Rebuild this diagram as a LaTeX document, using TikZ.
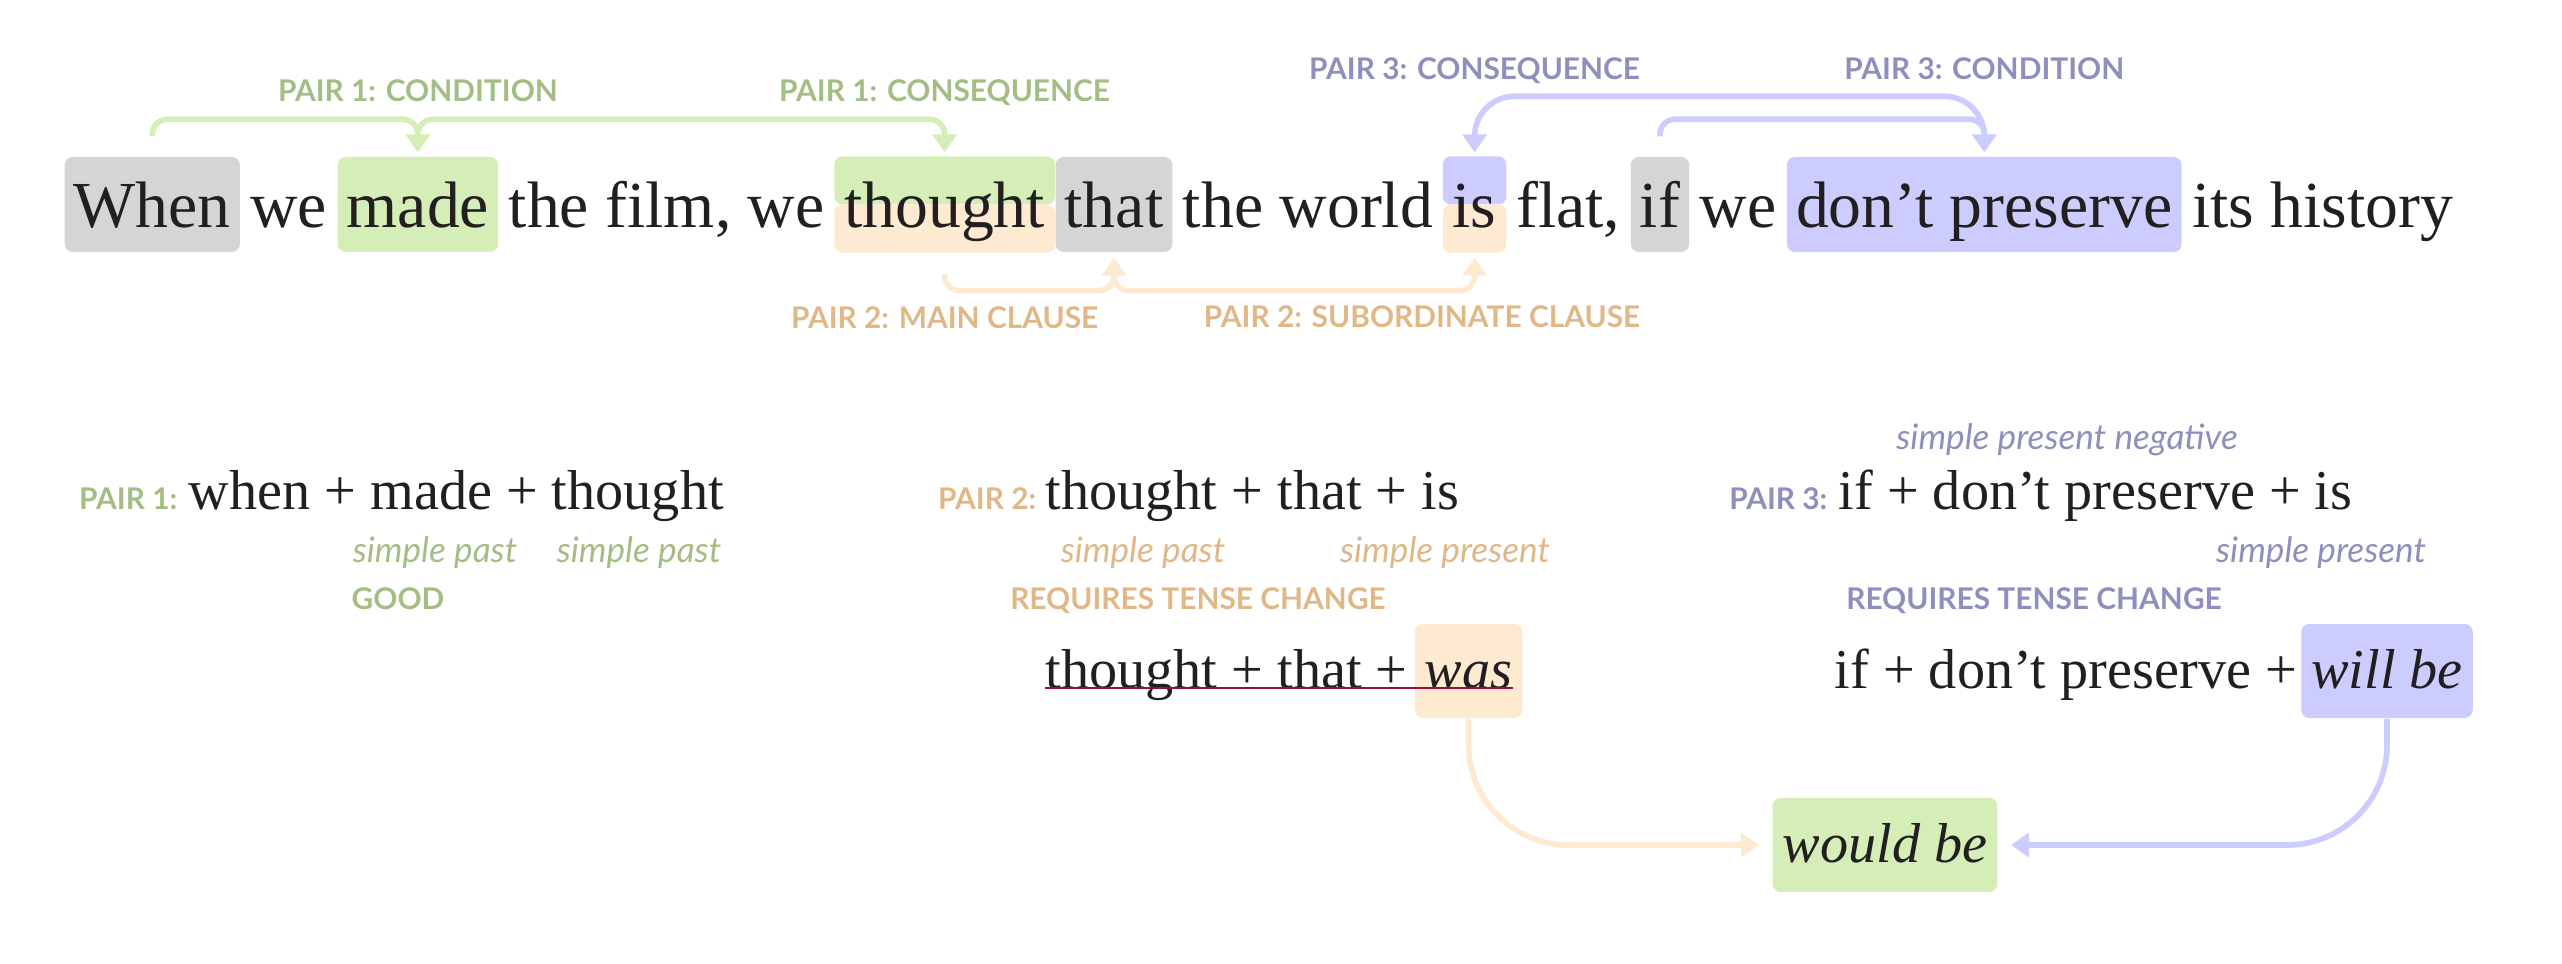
\documentclass[tikz,border=0pt]{standalone}
\usepackage{fontspec}
\setmainfont{Liberation Serif}
\newfontfamily\lato{Lato}
\usetikzlibrary{arrows.meta,positioning,backgrounds}

\definecolor{ink}{HTML}{231F20}
\definecolor{boxgray}{HTML}{D5D5D5}
\definecolor{boxgreen}{HTML}{D5EDB7}
\definecolor{boxorange}{HTML}{FDEAD0}
\definecolor{boxblue}{HTML}{CCCCFF}
\definecolor{labgreen}{HTML}{A3BE84}
\definecolor{laborange}{HTML}{E0B887}
\definecolor{labblue}{HTML}{8F8FBD}
\definecolor{strikered}{HTML}{9B0D40}

\begin{document}
\begin{tikzpicture}[x=0.1mm, y=-0.1mm,
		word/.style={font=\fontsize{18.7}{22}\selectfont, text=ink, text height=6.6mm, text depth=1.9mm,
			inner xsep=2.6pt, inner ysep=0.5mm, rounded corners=0.8mm},
		row/.style={font=\fontsize{16}{19}\selectfont, text=ink, inner sep=0, anchor=base west},
		lowbox/.style={font=\fontsize{16}{19}\selectfont\itshape, text=ink, text height=5.4mm, text depth=2mm,
			inner xsep=1mm, inner ysep=1mm, rounded corners=0.8mm},
		tag/.style={font=\lato\bfseries\fontsize{8.5}{10}\selectfont, inner sep=0, anchor=base},
		note/.style={font=\lato\itshape\fontsize{10}{12}\selectfont, inner sep=0, anchor=base},
		link/.style={line width=1.6pt, rounded corners=1.5mm, -{Triangle[length=1.8mm,width=2.4mm]}}]
	\useasboundingbox (0,0) rectangle (2562,964);

	% 整句
	\node[word, fill=boxgray, anchor=base west] (when) at (64,228) {When};
	\node[word, right=0pt of when] (we1) {we};
	\node[word, fill=boxgreen, right=0pt of we1] (made) {made};
	\node[word, right=0pt of made] (film) {the film, we};
	\node[word, right=0pt of film] (thought) {thought};
	\node[word, fill=boxgray, right=0pt of thought] (that) {that};
	\node[word, right=0pt of that] (world) {the world};
	\node[word, right=0pt of world] (is) {is};
	\node[word, right=0pt of is] (flat) {flat,};
	\node[word, fill=boxgray, right=0pt of flat] (if) {if};
	\node[word, right=0pt of if] (we2) {we};
	\node[word, fill=boxblue, right=0pt of we2] (preserve) {don't preserve};
	\node[word, right=0pt of preserve] (history) {its history};

	% 上下两色的框
	\begin{scope}[on background layer, rounded corners=0.8mm]
		\fill[boxgreen] (thought.north west) rectangle (thought.east);
		\fill[boxorange] (thought.west) rectangle (thought.south east);
		\fill[boxblue] (is.north west) rectangle (is.east);
		\fill[boxorange] (is.west) rectangle (is.south east);
	\end{scope}

	% 第一组
	\draw[link, boxgreen] ([yshift=2mm]when.north) |- ([yshift=3.7mm]made.north) -- ([yshift=0.4mm]made.north);
	\draw[link, boxgreen] ([yshift=2mm]made.north) |- ([yshift=3.7mm]thought.north) -- ([yshift=0.4mm]thought.north);
	\node[tag, text=labgreen] (cond1) at ([yshift=5.5mm]made.north) {PAIR 1: CONDITION};
	\node[tag, text=labgreen] (cons1) at ([yshift=5.5mm]thought.north) {PAIR 1: CONSEQUENCE};

	% 第二组
	\draw[link, boxorange] ([yshift=-2.1mm]thought.south) |- ([yshift=-3.8mm]that.south) -- ([yshift=-0.5mm]that.south);
	\draw[link, boxorange] ([yshift=-2.1mm]that.south) |- ([yshift=-3.8mm]is.south) -- ([yshift=-0.5mm]is.south);
	\node[tag, text=laborange] (main2) at ([yshift=-7.6mm]thought.south) {PAIR 2: MAIN CLAUSE};
	\node[tag, text=laborange] (sub2) at (1422,328) {PAIR 2: SUBORDINATE CLAUSE};

	% 第三组
	\draw[link, boxblue] ([yshift=2mm]if.north) |- ([yshift=3.7mm]preserve.north) -- ([yshift=0.4mm]preserve.north);
	\draw[link, boxblue, rounded corners=4mm] ([yshift=2mm]preserve.north) |- ([yshift=6mm]is.north) -- ([yshift=0.4mm]is.north);
	\node[tag, text=labblue] (cons3) at ([yshift=7.7mm]is.north) {PAIR 3: CONSEQUENCE};
	\node[tag, text=labblue] (cond3) at ([yshift=7.7mm]preserve.north) {PAIR 3: CONDITION};

	% 下半部分
	\node[row] (row1) at (188,510) {when + made + thought};
	\node[tag, text=labgreen, anchor=base east] (p1) at ([xshift=-1mm]row1.base west) {PAIR 1:};
	\node[note, text=labgreen] (t1a) at (435,562) {simple past};
	\node[note, text=labgreen] (t1b) at (639,562) {simple past};
	\node[tag, text=labgreen, anchor=base west] (good) at (351,610) {GOOD};

	\node[row] (row2) at (1045,510) {thought + that + is};
	\node[tag, text=laborange, anchor=base east] (p2) at ([xshift=-0.8mm]row2.base west) {PAIR 2:};
	\node[note, text=laborange] (t2a) at (1143,562) {simple past};
	\node[note, text=laborange] (t2b) at (1445,562) {simple present};
	\node[tag, text=laborange] (req2) at (1198,610) {REQUIRES TENSE CHANGE};

	\node[row] (row3) at (1838,510) {if + don't preserve + is};
	\node[tag, text=labblue, anchor=base east] (p3) at ([xshift=-1mm]row3.base west) {PAIR 3:};
	\node[note, text=labblue] (t3a) at (2067,450) {simple present negative};
	\node[note, text=labblue] (t3b) at (2321,562) {simple present};
	\node[tag, text=labblue] (req3) at (2034,610) {REQUIRES TENSE CHANGE};

	% 改写
	\node[row] (fix2) at (1045,688) {thought + that +};
	\node[lowbox, fill=boxorange, anchor=base west] (was) at ([xshift=0.6mm]fix2.base east) {was};
	\draw[strikered, line width=0.85pt] (fix2.base west) -- ([xshift=-1mm]was.base east);

	\node[row] (fix3) at (1834,688) {if + don't preserve +};
	\node[lowbox, fill=boxblue, anchor=base west] (will) at ([xshift=0.3mm]fix3.base east) {will be};

	\node[lowbox, fill=boxgreen, anchor=base] (would) at (1885,862) {would be};
	\draw[link, boxorange, rounded corners=10mm] (was.south) |- ([xshift=-1.3mm]would.west);
	\draw[link, boxblue, rounded corners=10mm] (will.south) |- ([xshift=1.3mm]would.east);
\end{tikzpicture}
\end{document}
